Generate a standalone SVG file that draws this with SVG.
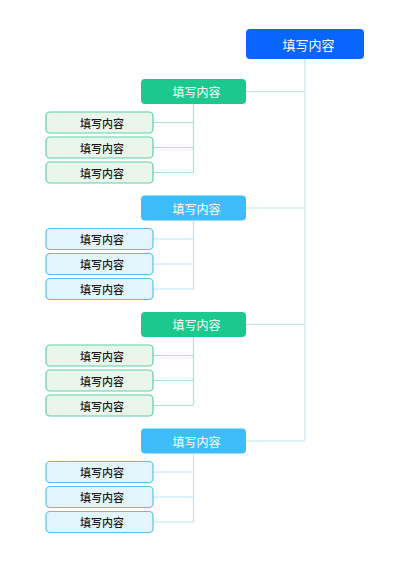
<svg xmlns="http://www.w3.org/2000/svg" width="400" height="566" viewBox="0 0 400 566">
<style>
text{font-family:"Noto Sans CJK SC","Noto Sans",sans-serif;text-anchor:middle;dominant-baseline:central}
.root rect{fill:#0866FF}
.root text{fill:#fff;font-size:13px}
.g1 rect{fill:#1BC98E}
.b1 rect{fill:#3DBEFB}
.l1 text{fill:#fff;font-size:12px}
.g2 rect{fill:#EAF6EC;stroke:#5CCFA6;stroke-width:1.2}
.b2 rect{fill:#E3F4FD;stroke:#5CBFEF;stroke-width:1.2}
.l2 text{fill:#1a1a1a;font-size:11px;font-weight:500}
.trunk{stroke:#BDE6EC;stroke-width:1.2;fill:none}
.cg{stroke:#A8E4CD;stroke-width:1.2;fill:none}
.cb{stroke:#BDE2F5;stroke-width:1.2;fill:none}
</style>
<rect width="400" height="566" fill="#fff"/>
<g id="connectors">
<path class="trunk" d="M305 59V440M246 91.5H305M246 208H305M246 324.5H305M246 441H305"/>
<path class="cg" d="M193.5 104V172.5M153 122.5H193.5M153 147.5H193.5M153 172.5H193.5"/>
<path class="cb" d="M193.5 220.5V289M153 239H193.5M153 264H193.5M153 289H193.5"/>
<path class="cg" d="M193.5 337V405.5M153 355.5H193.5M153 380.5H193.5M153 405.5H193.5"/>
<path class="cb" d="M193.5 453.5V522M153 472H193.5M153 497H193.5M153 522H193.5"/>
</g>
<g id="root" class="root"><rect x="246" y="29" width="118" height="30" rx="4"/><text x="308.5" y="44">填写内容</text></g>
<g id="n1" class="l1 g1"><rect x="141" y="79" width="105" height="25" rx="4"/><text x="196.5" y="91.5">填写内容</text></g>
<g id="n1a" class="l2 g2"><rect x="46" y="112" width="107" height="21" rx="4"/><text x="102" y="122.5">填写内容</text></g>
<g id="n1b" class="l2 g2"><rect x="46" y="137" width="107" height="21" rx="4"/><text x="102" y="147.5">填写内容</text></g>
<g id="n1c" class="l2 g2"><rect x="46" y="162" width="107" height="21" rx="4"/><text x="102" y="172.5">填写内容</text></g>
<g id="n2" class="l1 b1"><rect x="141" y="195.5" width="105" height="25" rx="4"/><text x="196.5" y="208">填写内容</text></g>
<g id="n2a" class="l2 b2"><rect x="46" y="228.5" width="107" height="21" rx="4"/><text x="102" y="239">填写内容</text></g>
<g id="n2b" class="l2 b2"><rect x="46" y="253.5" width="107" height="21" rx="4"/><text x="102" y="264">填写内容</text></g>
<g id="n2c" class="l2 b2"><rect x="46" y="278.5" width="107" height="21" rx="4"/><text x="102" y="289">填写内容</text></g>
<g id="n3" class="l1 g1"><rect x="141" y="312" width="105" height="25" rx="4"/><text x="196.5" y="324.5">填写内容</text></g>
<g id="n3a" class="l2 g2"><rect x="46" y="345" width="107" height="21" rx="4"/><text x="102" y="355.5">填写内容</text></g>
<g id="n3b" class="l2 g2"><rect x="46" y="370" width="107" height="21" rx="4"/><text x="102" y="380.5">填写内容</text></g>
<g id="n3c" class="l2 g2"><rect x="46" y="395" width="107" height="21" rx="4"/><text x="102" y="405.5">填写内容</text></g>
<g id="n4" class="l1 b1"><rect x="141" y="428.5" width="105" height="25" rx="4"/><text x="196.5" y="441">填写内容</text></g>
<g id="n4a" class="l2 b2"><rect x="46" y="461.5" width="107" height="21" rx="4"/><text x="102" y="472">填写内容</text></g>
<g id="n4b" class="l2 b2"><rect x="46" y="486.5" width="107" height="21" rx="4"/><text x="102" y="497">填写内容</text></g>
<g id="n4c" class="l2 b2"><rect x="46" y="511.5" width="107" height="21" rx="4"/><text x="102" y="522">填写内容</text></g>
</svg>
